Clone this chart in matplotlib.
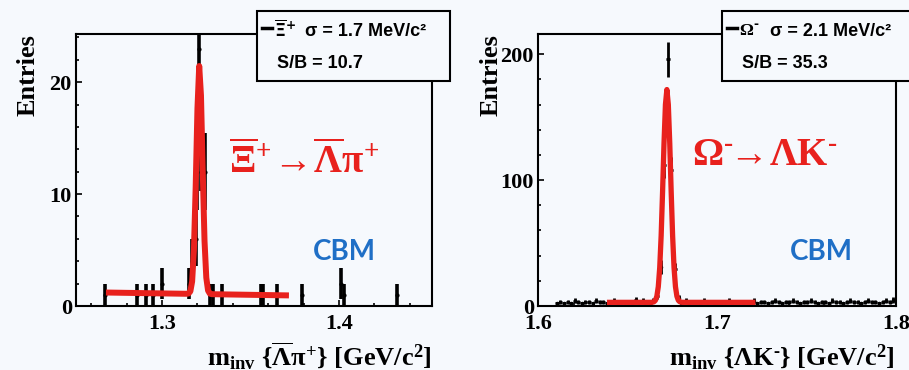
import numpy as np
import matplotlib
matplotlib.use('Agg')
import matplotlib.pyplot as plt
from matplotlib.patches import Rectangle
from matplotlib.lines import Line2D
from matplotlib.ticker import MultipleLocator

plt.rcParams['font.family'] = ['Liberation Serif', 'DejaVu Serif']
plt.rcParams['font.weight'] = 'bold'
plt.rcParams['mathtext.fontset'] = 'custom'
plt.rcParams['mathtext.rm'] = 'Liberation Serif:bold'
plt.rcParams['mathtext.it'] = 'Liberation Serif:bold'
plt.rcParams['mathtext.bf'] = 'Liberation Serif:bold'

BG = '#f6f9fd'
RED = '#e8211d'
BLUE = '#1f6fc6'

# anti-Xi+ -> anti-Lambda pi+ : filled bins (GeV/c^2), bin width 1 MeV
xi_mass = [1.268, 1.286, 1.291, 1.295, 1.300, 1.3155, 1.317, 1.319, 1.320,
           1.321, 1.322, 1.3245, 1.327, 1.329, 1.334, 1.356, 1.357, 1.365,
           1.379, 1.401, 1.403, 1.433]
xi_counts = [1, 1, 1, 1, 2, 2, 4, 6, 12, 23, 14, 12, 1, 1, 1, 1, 1, 1, 1, 2, 1, 1]
xi_binw = 0.001
# fit: gaus + pol1
xi_mean, xi_sigma, xi_amp = 1.3211, 0.0017, 20.4
xi_bkg = (1.20, 0.95)  # background at both ends of the fit range
xi_range = (1.27, 1.37)

# Omega- -> Lambda K- : bins of 2 MeV starting at 1.6095
om_start, om_binw = 1.6105, 0.002
om_counts = [2, 3, 2, 3, 2, 4, 3, 2, 3, 3,
             2, 4, 3, 3, 2, 3, 4, 2, 3, 3,
             3, 2, 5, 3, 4, 3, 2, 4,
             8, 31, 112, 196, 108, 29, 6,
             3, 4, 2, 3, 3, 2, 4, 3, 3, 2,
             3, 2, 3, 4, 2, 3, 3, 2, 3, 3,
             4, 2, 3, 3, 2, 3, 4, 3, 2, 3,
             3, 4, 3, 2, 3, 3, 4, 3, 2, 3,
             3, 2, 4, 3, 3, 2, 3, 4, 3, 3,
             2, 3, 4, 3, 3, 2, 3, 4, 3, 5]
om_mean, om_sigma, om_amp = 1.6720, 0.0021, 169.0
om_bkg = (2.9, 2.9)
om_range = (1.64, 1.72)

W, H = 909, 370
def fx(x):
    return x / W
def fy(y):
    return 1 - y / H

fig = plt.figure(figsize=(W / 100, H / 100), dpi=100, facecolor=BG)

def panel(rect, xlim, ylim, xmaj, xmin, ymaj, ymin):
    l, t, r, b = rect
    ax = fig.add_axes([fx(l), fy(b), fx(r - l), (b - t) / H], facecolor=BG)
    ax.set_xlim(*xlim)
    ax.set_ylim(*ylim)
    ax.xaxis.set_major_locator(MultipleLocator(xmaj))
    ax.xaxis.set_minor_locator(MultipleLocator(xmin))
    ax.yaxis.set_major_locator(MultipleLocator(ymaj))
    ax.yaxis.set_minor_locator(MultipleLocator(ymin))
    ax.tick_params(which='both', direction='in', width=1.2, labelsize=16, colors='k')
    ax.tick_params(which='major', length=4.5)
    ax.tick_params(which='minor', length=2.3)
    ax.tick_params(axis='x', pad=6)
    ax.tick_params(axis='y', pad=3)
    for s in ax.spines.values():
        s.set_linewidth(1.5)
    return ax

def fit_curve(ax, mean, sigma, amp, bkg, rng, lw):
    # drawn like ROOT: 100 segments over the fit range
    x = np.linspace(rng[0], rng[1], 101)
    b = bkg[0] + (bkg[1] - bkg[0]) * (x - rng[0]) / (rng[1] - rng[0])
    y = b + amp * np.exp(-0.5 * ((x - mean) / sigma) ** 2)
    ax.plot(x, y, color=RED, lw=lw, zorder=3, solid_joinstyle='round')

# ---- left: anti-Xi+
ax1 = panel((76, 34, 432, 306), (1.2514, 1.4525), (0, 24.3), 0.1, 0.02, 10, 2)
xc = np.array(xi_mass)
yc = np.array(xi_counts, dtype=float)
ax1.errorbar(xc, yc, yerr=np.sqrt(yc), xerr=xi_binw / 2, fmt='o', ms=2,
             color='k', elinewidth=2.6, capsize=0, zorder=2)
fit_curve(ax1, xi_mean, xi_sigma, xi_amp, xi_bkg, xi_range, 4.3)
ax1.set_xticks([1.3, 1.4])
ax1.set_xticklabels(['1.3', '1.4'])
ax1.text(0.43, 0.489,
         r'$\overline{\Xi}^{+}\!\rightarrow\!\overline{\Lambda}\pi^{+}$',
         transform=ax1.transAxes, color=RED, fontsize=28, va='baseline')
ax1.text(0.666, 0.169, 'CBM', transform=ax1.transAxes, color=BLUE, fontsize=20,
         family='Lato', weight='bold', va='baseline')

# ---- right: Omega-
ax2 = panel((538, 34, 896, 306), (1.6, 1.8), (0, 216), 0.1, 0.02, 100, 20)
oc = np.array(om_counts, dtype=float)
ox = om_start + om_binw * np.arange(len(oc))
ax2.errorbar(ox, oc, yerr=np.sqrt(oc), xerr=om_binw / 2, fmt='o', ms=1.5,
             color='k', elinewidth=2.0, capsize=0, zorder=2)
fit_curve(ax2, om_mean, om_sigma, om_amp, om_bkg, om_range, 3.8)
ax2.set_xticks([1.6, 1.7, 1.8])
ax2.set_xticklabels(['1.6', '1.7', '1.8'])
ax2.text(0.43, 0.518,
         r'$\Omega^{\text{-}}\!\!\rightarrow\!\Lambda\mathrm{K}^{\text{-}}$',
         transform=ax2.transAxes, color=RED, fontsize=28, va='baseline')
ax2.text(0.704, 0.169, 'CBM', transform=ax2.transAxes, color=BLUE, fontsize=20,
         family='Lato', weight='bold', va='baseline')

# axis titles
for xc_lab in (28, 491):
    fig.text(fx(xc_lab), fy(75), 'Entries', rotation=90, ha='center', va='center',
             fontsize=19)
fig.text(fx(432), fy(365), r'm$_{\rm inv}$ {$\overline{\Lambda}\pi^{+}$} [GeV/c$^{2}$]',
         ha='right', va='baseline', fontsize=19)
fig.text(fx(895), fy(365), r'm$_{\rm inv}$ {$\Lambda$K$^{\text{-}}$} [GeV/c$^{2}$]',
         ha='right', va='baseline', fontsize=19)

# fit info boxes
def info_box(left, right, particle, sigma_txt, sb_txt):
    fig.add_artist(Rectangle((fx(left), fy(81)), fx(right - left), 70 / H,
                             transform=fig.transFigure, facecolor=BG,
                             edgecolor='k', lw=1.5, zorder=5))
    fig.add_artist(Line2D([fx(left + 5), fx(left + 15)], [fy(28), fy(28)],
                          transform=fig.transFigure, color='k', lw=2.5, zorder=6))
    fig.text(fx(left + 17), fy(36), particle, fontsize=12.5,
             math_fontfamily='dejavusans', va='baseline', zorder=6)
    fig.text(fx(left + 48), fy(36), sigma_txt, fontsize=13, family='Liberation Sans',
             weight='bold', va='baseline', zorder=6)
    fig.text(fx(left + 20), fy(68), sb_txt, fontsize=13, family='Liberation Sans',
             weight='bold', va='baseline', zorder=6)

info_box(257, 450, r'$\overline{\Xi}^{+}$', 'σ = 1.7 MeV/c²', 'S/B = 10.7')
info_box(722, 930, r'$\mathregular{\Omega}^{\text{-}}$', 'σ = 2.1 MeV/c²', 'S/B = 35.3')

fig.savefig('out.png', dpi=100, facecolor=BG)
